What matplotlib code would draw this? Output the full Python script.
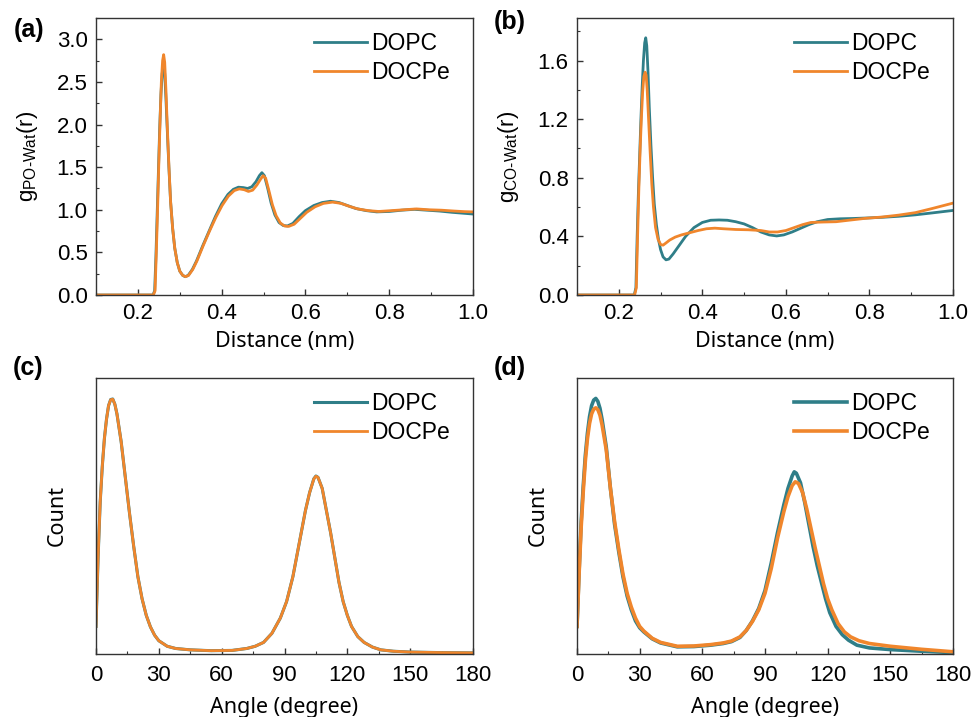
import matplotlib
matplotlib.use('Agg')
import matplotlib.pyplot as plt
from matplotlib.ticker import MultipleLocator, NullLocator

plt.rcParams['font.family'] = ['Liberation Sans', 'DejaVu Sans']
plt.rcParams['mathtext.fontset'] = 'custom'
plt.rcParams['mathtext.rm'] = 'Liberation Sans'
plt.rcParams['mathtext.it'] = 'Liberation Sans'

TEAL = '#2f7e88'
ORANGE = '#f0862c'

# ---- (a) g_PO-Wat(r) ----
r_a_dopc = [0.10, 0.236, 0.240, 0.243, 0.246, 0.249, 0.252, 0.255, 0.258, 0.261, 0.264, 0.267,
            0.270, 0.274, 0.278, 0.283, 0.288, 0.294, 0.300, 0.307, 0.313, 0.320, 0.330, 0.340,
            0.355, 0.370, 0.385, 0.400, 0.415, 0.428, 0.440, 0.452, 0.462, 0.472, 0.482, 0.490,
            0.496, 0.502, 0.510, 0.518, 0.527, 0.537, 0.547, 0.557, 0.570, 0.585, 0.600, 0.620,
            0.640, 0.660, 0.680, 0.700, 0.720, 0.745, 0.770, 0.800, 0.830, 0.860, 0.890, 0.920,
            0.950, 0.975, 1.00]
g_a_dopc = [0, 0, 0.05, 0.45, 0.95, 1.45, 1.95, 2.35, 2.60, 2.68, 2.60, 2.30,
            1.95, 1.50, 1.10, 0.78, 0.55, 0.38, 0.28, 0.23, 0.215, 0.23, 0.30, 0.40,
            0.58, 0.75, 0.92, 1.07, 1.18, 1.24, 1.265, 1.26, 1.25, 1.27, 1.33, 1.40,
            1.435, 1.40, 1.25, 1.08, 0.94, 0.85, 0.815, 0.81, 0.84, 0.92, 0.99, 1.05,
            1.085, 1.10, 1.085, 1.05, 1.015, 0.99, 0.975, 0.98, 0.995, 1.005, 0.995, 0.985,
            0.97, 0.96, 0.95]
r_a_docpe = [0.10, 0.237, 0.241, 0.244, 0.247, 0.250, 0.253, 0.256, 0.259, 0.2615, 0.264, 0.267,
             0.270, 0.274, 0.278, 0.283, 0.288, 0.294, 0.300, 0.307, 0.314, 0.321, 0.331, 0.341,
             0.356, 0.371, 0.386, 0.401, 0.416, 0.430, 0.442, 0.454, 0.464, 0.474, 0.484, 0.493,
             0.499, 0.505, 0.513, 0.521, 0.530, 0.540, 0.550, 0.560, 0.573, 0.588, 0.603, 0.623,
             0.643, 0.665, 0.685, 0.705, 0.725, 0.750, 0.775, 0.805, 0.835, 0.865, 0.895, 0.925,
             0.955, 0.980, 1.00]
g_a_docpe = [0, 0, 0.05, 0.50, 1.00, 1.55, 2.05, 2.50, 2.75, 2.82, 2.73, 2.40,
             2.00, 1.52, 1.10, 0.78, 0.55, 0.38, 0.28, 0.23, 0.215, 0.23, 0.30, 0.40,
             0.58, 0.75, 0.91, 1.05, 1.16, 1.225, 1.245, 1.235, 1.215, 1.23, 1.29, 1.36,
             1.40, 1.37, 1.22, 1.06, 0.93, 0.845, 0.81, 0.805, 0.83, 0.90, 0.97, 1.035,
             1.075, 1.09, 1.075, 1.04, 1.01, 0.99, 0.98, 0.99, 1.00, 1.01, 1.00, 0.995,
             0.985, 0.978, 0.975]

# ---- (b) g_CO-Wat(r) ----
r_b_dopc = [0.10, 0.237, 0.241, 0.244, 0.247, 0.250, 0.253, 0.256, 0.259, 0.262, 0.2645, 0.267,
            0.270, 0.273, 0.277, 0.281, 0.285, 0.290, 0.295, 0.300, 0.306, 0.313, 0.320, 0.330,
            0.345, 0.360, 0.380, 0.400, 0.420, 0.440, 0.460, 0.480, 0.500, 0.520, 0.540, 0.560,
            0.578, 0.595, 0.615, 0.635, 0.655, 0.675, 0.700, 0.730, 0.760, 0.790, 0.830, 0.870,
            0.910, 0.950, 1.00]
g_b_dopc = [0, 0, 0.05, 0.40, 0.70, 0.95, 1.20, 1.42, 1.60, 1.72, 1.755, 1.70,
            1.52, 1.28, 1.02, 0.80, 0.62, 0.48, 0.38, 0.31, 0.26, 0.24, 0.245, 0.28,
            0.34, 0.40, 0.46, 0.495, 0.51, 0.512, 0.51, 0.50, 0.485, 0.46, 0.43, 0.41,
            0.403, 0.41, 0.43, 0.455, 0.48, 0.50, 0.515, 0.52, 0.522, 0.525, 0.53, 0.537,
            0.547, 0.56, 0.577]
r_b_docpe = [0.10, 0.238, 0.242, 0.245, 0.248, 0.251, 0.254, 0.257, 0.260, 0.263, 0.2655, 0.268,
             0.271, 0.275, 0.279, 0.283, 0.288, 0.294, 0.300, 0.306, 0.313, 0.322, 0.335, 0.350,
             0.370, 0.390, 0.410, 0.430, 0.450, 0.480, 0.510, 0.540, 0.560, 0.580, 0.600, 0.620,
             0.640, 0.660, 0.690, 0.720, 0.750, 0.790, 0.830, 0.870, 0.910, 0.950, 1.00]
g_b_docpe = [0, 0, 0.05, 0.40, 0.72, 0.98, 1.20, 1.38, 1.49, 1.52, 1.50, 1.40,
             1.22, 0.98, 0.76, 0.60, 0.46, 0.38, 0.345, 0.34, 0.355, 0.375, 0.395, 0.41,
             0.425, 0.44, 0.452, 0.456, 0.452, 0.447, 0.445, 0.44, 0.43, 0.43, 0.44, 0.46,
             0.48, 0.495, 0.498, 0.50, 0.51, 0.523, 0.532, 0.545, 0.562, 0.59, 0.627]

# ---- (c) angle distribution ----
ang_c = [0, 1, 2, 3, 4, 5, 6, 7, 8, 9, 10, 12, 14, 16, 18, 20, 22, 24, 26, 28, 30, 34, 38,
         45, 55, 65, 72, 76, 80, 84, 88, 91, 94, 97, 100, 102, 104, 105, 106, 108, 110, 112,
         114, 116, 118, 120, 122, 125, 128, 132, 136, 142, 150, 165, 180]
cnt_c_dopc = [0.10, 0.35, 0.55, 0.68, 0.78, 0.85, 0.90, 0.922, 0.924, 0.905, 0.87, 0.77, 0.64,
              0.51, 0.39, 0.28, 0.20, 0.14, 0.098, 0.068, 0.048, 0.028, 0.020,
              0.015, 0.012, 0.013, 0.020, 0.028, 0.042, 0.075, 0.13, 0.19, 0.28, 0.40, 0.52,
              0.585, 0.635, 0.645, 0.64, 0.60, 0.52, 0.44, 0.35, 0.26, 0.19, 0.14, 0.10,
              0.063, 0.042, 0.025, 0.015, 0.010, 0.007, 0.005, 0.004]
cnt_c_docpe = [0.10, 0.35, 0.55, 0.68, 0.78, 0.85, 0.90, 0.921, 0.923, 0.905, 0.87, 0.77, 0.64,
               0.51, 0.39, 0.28, 0.20, 0.14, 0.098, 0.068, 0.048, 0.028, 0.020,
               0.015, 0.012, 0.013, 0.020, 0.028, 0.042, 0.075, 0.13, 0.19, 0.28, 0.40, 0.52,
               0.585, 0.634, 0.644, 0.64, 0.60, 0.52, 0.44, 0.35, 0.26, 0.19, 0.14, 0.10,
               0.063, 0.042, 0.025, 0.015, 0.010, 0.007, 0.005, 0.004]

# ---- (d) angle distribution ----
ang_d_dopc = [0, 1, 2, 3, 4, 5, 6, 7, 8, 9, 10, 11, 12, 14, 16, 18, 20, 22, 24, 26, 28, 30, 32,
              36, 40, 48, 56, 64, 70, 74, 78, 81, 84, 87, 90, 93, 96, 99, 101, 103, 104, 105,
              107, 109, 111, 113, 115, 117, 119, 121, 124, 127, 130, 134, 140, 150, 165, 180]
cnt_d_dopc = [0.10, 0.30, 0.48, 0.61, 0.72, 0.80, 0.86, 0.90, 0.92, 0.926, 0.915, 0.89, 0.85,
              0.75, 0.60, 0.47, 0.37, 0.28, 0.21, 0.16, 0.12, 0.095, 0.08,
              0.055, 0.04, 0.026, 0.027, 0.032, 0.038, 0.045, 0.06, 0.085, 0.12, 0.165, 0.23,
              0.33, 0.44, 0.54, 0.60, 0.645, 0.66, 0.655, 0.62, 0.55, 0.47, 0.39, 0.32, 0.26,
              0.20, 0.15, 0.10, 0.07, 0.05, 0.032, 0.022, 0.016, 0.010, 0.005]
ang_d_docpe = [0, 1, 2, 3, 4, 5, 6, 7, 8, 9, 10, 11, 12, 14, 16, 18, 20, 22, 24, 26, 28, 30, 32,
               36, 40, 48, 56, 64, 70, 74, 78, 81, 84, 87, 90, 93, 96, 99, 101, 103, 104.5, 106,
               108, 110, 112, 114, 116, 118, 120, 122, 125, 128, 131, 135, 140, 150, 165, 180]
cnt_d_docpe = [0.10, 0.29, 0.46, 0.59, 0.70, 0.78, 0.835, 0.87, 0.887, 0.892, 0.885, 0.865, 0.83,
               0.74, 0.60, 0.48, 0.38, 0.29, 0.22, 0.17, 0.13, 0.10, 0.083,
               0.057, 0.042, 0.028, 0.029, 0.034, 0.040, 0.047, 0.062, 0.085, 0.118, 0.16, 0.22,
               0.31, 0.42, 0.515, 0.57, 0.61, 0.624, 0.618, 0.585, 0.525, 0.455, 0.385, 0.32,
               0.255, 0.20, 0.16, 0.11, 0.08, 0.062, 0.048, 0.038, 0.028, 0.017, 0.008]

fig = plt.figure(figsize=(9.73, 7.17), dpi=100)
W, H = 973, 717


def add_ax(l, t, r, b):
    return fig.add_axes([l / W, 1 - b / H, (r - l) / W, (b - t) / H])


ax_a = add_ax(96, 18, 473, 295)
ax_b = add_ax(577, 18, 953, 295)
ax_c = add_ax(96, 378, 473, 654)
ax_d = add_ax(577, 378, 953, 654)

ax_a.plot(r_a_dopc, g_a_dopc, color=TEAL, lw=2.0, label='DOPC')
ax_a.plot(r_a_docpe, g_a_docpe, color=ORANGE, lw=2.0, label='DOCPe')
ax_b.plot(r_b_dopc, g_b_dopc, color=TEAL, lw=2.0, label='DOPC')
ax_b.plot(r_b_docpe, g_b_docpe, color=ORANGE, lw=2.0, label='DOCPe')
ax_c.plot(ang_c, cnt_c_dopc, color=TEAL, lw=2.2, label='DOPC')
ax_c.plot(ang_c, cnt_c_docpe, color=ORANGE, lw=2.0, label='DOCPe')
ax_d.plot(ang_d_dopc, cnt_d_dopc, color=TEAL, lw=2.6, label='DOPC')
ax_d.plot(ang_d_docpe, cnt_d_docpe, color=ORANGE, lw=2.6, label='DOCPe')

LABEL_FONT = ['Noto Sans', 'DejaVu Sans']

for ax in (ax_a, ax_b):
    ax.set_xlim(0.1, 1.0)
    ax.xaxis.set_minor_locator(MultipleLocator(0.1))
    ax.set_xticks([0.2, 0.4, 0.6, 0.8, 1.0])
    ax.set_xlabel('Distance (nm)', fontsize=15.5, family=LABEL_FONT, labelpad=5)

ax_a.set_ylim(0, 3.25)
ax_a.yaxis.set_minor_locator(MultipleLocator(0.25))
ax_a.set_yticks([0, 0.5, 1.0, 1.5, 2.0, 2.5, 3.0])
ax_a.set_ylabel(r'g$_{\mathregular{PO\text{-}Wat}}$(r)', fontsize=16, labelpad=12)

ax_b.set_ylim(0, 1.89)
ax_b.yaxis.set_minor_locator(MultipleLocator(0.2))
ax_b.set_yticks([0, 0.4, 0.8, 1.2, 1.6])
ax_b.set_ylabel(r'g$_{\mathregular{CO\text{-}Wat}}$(r)', fontsize=16, labelpad=12)

for ax in (ax_c, ax_d):
    ax.set_xlim(0, 180)
    ax.set_ylim(0, 1.0)
    ax.xaxis.set_major_locator(MultipleLocator(30))
    ax.xaxis.set_minor_locator(MultipleLocator(15))
    ax.yaxis.set_major_locator(NullLocator())
    ax.yaxis.set_minor_locator(NullLocator())
    ax.set_xlabel('Angle (degree)', fontsize=15.5, family=LABEL_FONT, labelpad=8)
    ax.set_ylabel('Count', fontsize=15.5, family=LABEL_FONT, labelpad=20)

for ax in (ax_a, ax_b, ax_c, ax_d):
    ax.tick_params(which='both', direction='in', top=False, right=False, labelsize=16,
                   color='#333333', pad=6)
    ax.tick_params(which='major', length=4, width=1)
    ax.tick_params(which='minor', length=2.5, width=0.8)
    for sp in ax.spines.values():
        sp.set_color('#333333')
        sp.set_linewidth(1.0)
    ax.legend(loc='upper right', fontsize=16.5, frameon=False, handlelength=2.3,
              handletextpad=0.2, labelspacing=0.25, borderaxespad=0.35,
              bbox_to_anchor=(0.985, 1.01))

for ax in (ax_c, ax_d):
    ax.tick_params(axis='x', pad=8)

for lbl, x, y in [('(a)', 29, 30), ('(b)', 510, 22), ('(c)', 28, 368), ('(d)', 510, 368)]:
    fig.text(x / W, 1 - y / H, lbl, fontsize=18, fontweight='bold', ha='center', va='center')

fig.savefig('out.png', dpi=100)
